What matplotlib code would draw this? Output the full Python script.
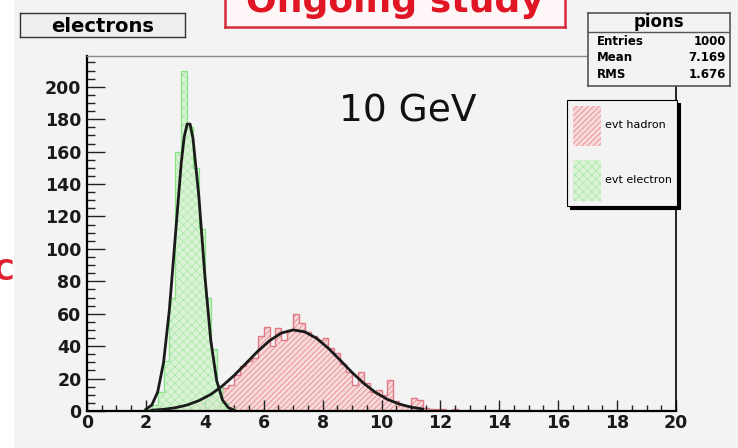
import numpy as np
import matplotlib
matplotlib.use("Agg")
from matplotlib import pyplot as plt
from matplotlib.ticker import MultipleLocator

# histogram contents, bin width 0.2
pion_start = 2.0
pion_counts = [0, 0, 1, 0, 1, 1, 2, 2, 4, 5,
               10, 9, 8, 14, 16, 22, 28, 31, 33, 46,
               52, 40, 51, 44, 50, 60, 54, 49, 46, 44,
               45, 39, 36, 29, 24, 16, 24, 17, 12, 13,
               10, 19, 6, 4, 3, 8, 7, 2, 1, 1,
               1, 0, 1]
elec_start = 2.0
elec_counts = [1, 4, 12, 31, 70, 160, 210, 175, 150, 112, 70, 38, 15, 5, 2]
bin_width = 0.2

# gaussian fit curves
elec_fit_x = [2.0, 2.2, 2.4, 2.6, 2.8, 3.0, 3.2, 3.3, 3.4, 3.5, 3.6, 3.8, 4.0, 4.2, 4.4, 4.6, 4.8, 5.0]
elec_fit_y = [1.0, 3.7, 11.7, 30, 63, 108, 153, 169, 177, 177, 168, 132, 84, 44, 19, 6.8, 2.0, 0.5]
pion_fit_x = [2.2, 2.6, 3.0, 3.4, 3.8, 4.2, 4.6, 5.0, 5.4, 5.8, 6.2, 6.6, 7.0,
              7.4, 7.8, 8.2, 8.6, 9.0, 9.4, 9.8, 10.2, 10.6, 11.0, 11.4]
pion_fit_y = [0.5, 1.0, 2.0, 3.7, 6.4, 10.2, 15.5, 22.0, 29.4, 36.9, 43.4, 48.1, 50,
              48.8, 44.8, 38.6, 31.3, 23.8, 17.0, 11.4, 7.2, 4.3, 2.4, 1.2]

stats_labels = ["Entries", "Mean", "RMS"]
stats_values = ["1000", "7.169", "1.676"]

W, H = 738, 448
bg = "#f3f3f3"
fig = plt.figure(figsize=(W / 100, H / 100), dpi=100, facecolor=bg)
fig.patches.append(plt.Rectangle((0, 0), 13 / W, 1, transform=fig.transFigure,
                                 color="white", zorder=0))

ax = fig.add_axes([87 / W, 37 / H, 589 / W, 355 / H], facecolor=bg)

pion_edges = pion_start + bin_width * np.arange(len(pion_counts) + 1)
elec_edges = elec_start + bin_width * np.arange(len(elec_counts) + 1)

plt.rcParams["hatch.linewidth"] = 0.6
h_pion = ax.stairs(pion_counts, pion_edges, fill=True, facecolor="#f6dada",
                   edgecolor="#e88a92", hatch="//////", linewidth=0, zorder=1)
ax.stairs(pion_counts, pion_edges, color="#e07a86", linewidth=1.0, zorder=1.5)
h_elec = ax.stairs(elec_counts, elec_edges, fill=True, facecolor="#d6f3d2",
                   edgecolor="#a6e8a2", hatch="xxxx", linewidth=0, alpha=0.85, zorder=2)
ax.stairs(elec_counts, elec_edges, color="#86e486", linewidth=0.9, zorder=2.5)

ax.plot(elec_fit_x, elec_fit_y, color="#1a1a1a", lw=2.0, zorder=3)
ax.plot(pion_fit_x, pion_fit_y, color="#1a1a1a", lw=2.0, zorder=3)

ax.set_xlim(0, 20)
ax.set_ylim(0, 219)
ax.xaxis.set_major_locator(MultipleLocator(2))
ax.xaxis.set_minor_locator(MultipleLocator(0.5))
ax.yaxis.set_major_locator(MultipleLocator(20))
ax.yaxis.set_minor_locator(MultipleLocator(5))
ax.tick_params(axis="x", which="major", direction="in", length=8, width=1, pad=2)
ax.tick_params(axis="x", which="minor", direction="in", length=4, width=1)
ax.tick_params(axis="y", which="major", direction="in", length=13, width=1, pad=4)
ax.tick_params(axis="y", which="minor", direction="in", length=6, width=1)
ax.tick_params(top=False, right=False, which="both", colors="#222222")
for lab in ax.get_xticklabels() + ax.get_yticklabels():
    lab.set_fontweight("bold")
    lab.set_fontsize(12.5)
    lab.set_color("#1a1a1a")
ax.spines["left"].set_linewidth(1.6)
ax.spines["bottom"].set_linewidth(1.6)
ax.spines["top"].set_color("#8a8a8a")
ax.spines["top"].set_linewidth(1.0)
ax.spines["right"].set_linewidth(1.2)

ax.text(0.545, 0.845, "10 GeV", transform=ax.transAxes, fontsize=27,
        ha="center", va="center", color="#111111")

leg = ax.legend([h_pion, h_elec], ["evt hadron", "evt electron"],
                bbox_to_anchor=(567 / W, 1 - 212 / H, 110 / W, 112 / H),
                bbox_transform=fig.transFigure, loc="upper left", mode="expand",
                fontsize=8, handlelength=2.6, handleheight=5.2, labelspacing=1.3,
                borderpad=0.5, handletextpad=0.3, borderaxespad=0,
                fancybox=False, framealpha=1, facecolor=bg, edgecolor="black",
                shadow={"color": "black", "alpha": 1})
leg.get_frame().set_linewidth(0.8)
leg.set_zorder(10)

# stats box
st = fig.add_axes([588 / W, 1 - 86 / H, 142 / W, 73 / H], facecolor=bg)
st.set_xticks([])
st.set_yticks([])
for s in st.spines.values():
    s.set_color("#555555")
    s.set_linewidth(1.2)
st.axhline(0.74, color="#555555", lw=1.0)
st.text(0.5, 0.875, "pions", ha="center", va="center", fontsize=12,
        fontweight="bold", transform=st.transAxes)
for i, (name, val) in enumerate(zip(stats_labels, stats_values)):
    yy = [0.616, 0.384, 0.164][i]
    st.text(0.06, yy, name, ha="left", va="center", fontsize=8.5,
            fontweight="bold", transform=st.transAxes)
    st.text(0.97, yy, val, ha="right", va="center", fontsize=8.5,
            fontweight="bold", transform=st.transAxes)

# title box
tb = fig.add_axes([20 / W, 1 - 37 / H, 165 / W, 24 / H], facecolor="#eeeeee")
tb.set_xticks([])
tb.set_yticks([])
for s in tb.spines.values():
    s.set_color("#333333")
    s.set_linewidth(1.0)
tb.text(0.5, 0.45, "electrons", ha="center", va="center", fontsize=14,
        fontweight="bold", transform=tb.transAxes)

# red banner, cut at the top of the picture
rb = fig.add_axes([225 / W, 1 - 27 / H, 340 / W, 45 / H], facecolor="#fff7f7")
rb.set_xticks([])
rb.set_yticks([])
for s in rb.spines.values():
    s.set_color("#d42a3a")
    s.set_linewidth(1.8)
fig.text(395 / W, 1 - 12 / H, "Ongoing study", ha="center", va="baseline",
         fontsize=26, fontweight="bold", color="#e01624")

fig.text(-6 / W, 1 - 272 / H, "C", ha="left", va="center", fontsize=20,
         fontweight="bold", color="#e02030")

fig.savefig("out.png", dpi=100, facecolor=bg)
